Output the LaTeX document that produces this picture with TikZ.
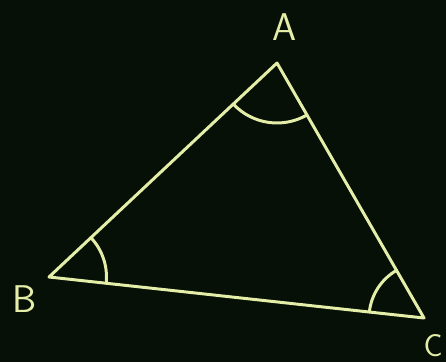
\documentclass[tikz,border=0pt]{standalone}
\usepackage{tikz}
\usetikzlibrary{angles}
\usepackage{xcolor}
\definecolor{boardgreen}{RGB}{6,16,6}
\definecolor{chalkline}{RGB}{228,238,168}

\begin{document}
\begin{tikzpicture}[x=0.02cm, y=-0.02cm,
  chalk/.style={draw=chalkline, line width=1.7pt, line cap=round, line join=round},
  vertexlabel/.style={text=chalkline, font=\sffamily\fontsize{22}{26}\selectfont, inner sep=0pt}]
\fill[boardgreen] (0,0) rectangle (446,362);
\useasboundingbox (0,0) rectangle (446,362);

\coordinate (A) at (277,63);
\coordinate (B) at (49,277);
\coordinate (C) at (424,318);

\node[vertexlabel] (la) at (285,27) {A};
\node[vertexlabel] (lb) at (25,299) {B};
\node[vertexlabel, font=\sffamily\fontsize{18}{22}\selectfont] (lc) at (433,346) {C};

\draw[chalk] (A) -- (B) -- (C) -- cycle;
\pic[chalk, angle radius=1.2cm] {angle = B--A--C};
\pic[chalk, angle radius=1.15cm] {angle = C--B--A};
\pic[chalk, angle radius=1.1cm] {angle = A--C--B};
\end{tikzpicture}
\end{document}
